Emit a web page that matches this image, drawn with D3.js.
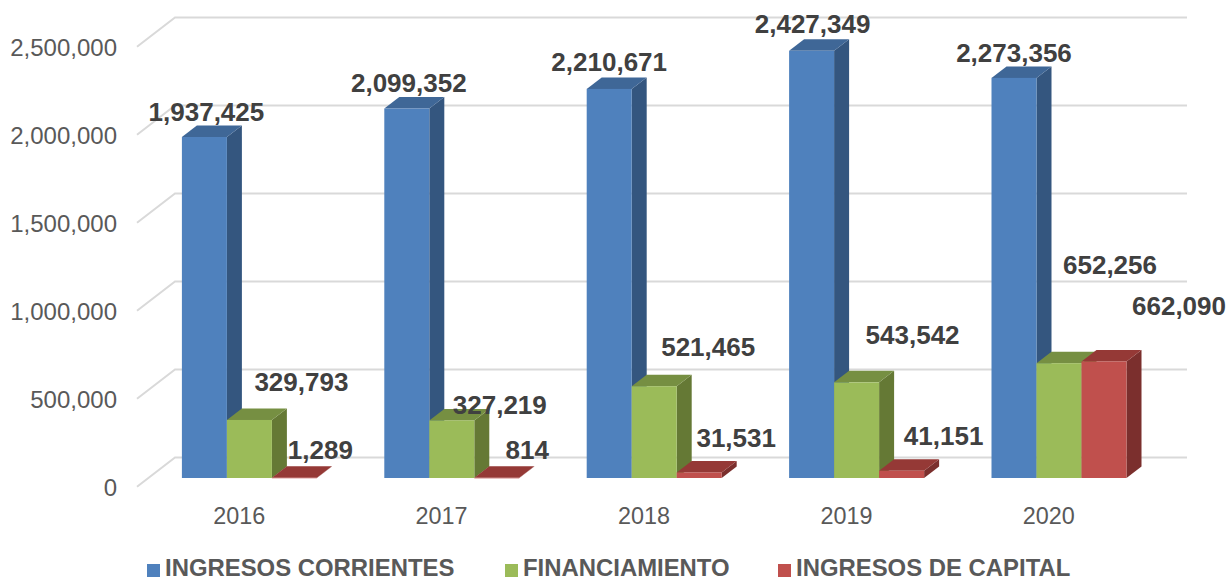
<!DOCTYPE html>
<html><head><meta charset="utf-8">
<script src="https://cdn.jsdelivr.net/npm/d3@7"></script>
<style>html,body{margin:0;padding:0;background:#fff}svg{display:block}text{font-family:"Liberation Sans",Arial,sans-serif}</style>
</head><body><div id="c"></div>
<script>
const years = ["2016","2017","2018","2019","2020"];
const seriesNames = ["INGRESOS CORRIENTES","FINANCIAMIENTO","INGRESOS DE CAPITAL"];
const corrientes = [1937425,2099352,2210671,2427349,2273356];
const financiamiento = [329793,327219,521465,543542,652256];
const capital = [1289,814,31531,41151,662090];
const yTicks = [0,500000,1000000,1500000,2000000,2500000];
// label nudges from the default spot above each bar [dx, dy]
const nudgeCorrientes = [[2,-16.5],[2,-16.5],[0,-17.5],[1,-17.5],[0,-15.5]];
const nudgeFinanciamiento = [[52,-28.5],[48,-6.5],[54,-30.5],[56,-38.5],[51,-89.5]];
const nudgeCapital = [[26,-18.5],[30.5,-18.5],[37,-25.5],[42,-25.5],[75,-46.5]];
const faceColors = [
 {front:"#4F81BD",side:"#34567F",top:"#3F6797"},
 {front:"#9BBB59",side:"#657935",top:"#768F42"},
 {front:"#C0504D",side:"#7B2F2D",top:"#953936"}];

const W=1227,H=581;
const svg=d3.select("#c").append("svg").attr("width",W).attr("height",H);
const y=d3.scaleLinear().domain([0,2500000]).range([478,38]);
const x=d3.scaleBand().domain(years).range([148.2,1160.2]);
const sx=d3.scaleBand().domain([0,1,2]).range([0,135]);
const depth={dx:15,dy:-11.5};
const floor={frontX:137,backX:175,endX:1187,frontDy:8.7,backDy:-20.5};

// gridlines
const grid=svg.append("g").attr("fill","none").attr("stroke","#D9D9D9").attr("stroke-width",2);
yTicks.forEach(t=>{
  const p=d3.path();
  p.moveTo(floor.frontX,y(t)+floor.frontDy);
  p.lineTo(floor.backX,y(t)+floor.backDy);
  p.lineTo(floor.endX,y(t)+floor.backDy);
  grid.append("path").attr("d",p.toString());
});

// y axis
const ay=svg.append("g").attr("transform","translate(117,10)")
 .call(d3.axisLeft(y).tickValues(yTicks).tickSize(0).tickPadding(0).tickFormat(d3.format(",")));
ay.select(".domain").remove();
ay.selectAll("text").attr("font-size",24).attr("fill","#595959").style("font-family",'"Liberation Sans",Arial,sans-serif');

// x axis
const ax=svg.append("g").attr("transform","translate(-10.2,507)")
 .call(d3.axisBottom(x).tickSize(0).tickPadding(0));
ax.select(".domain").remove();
ax.selectAll("text").attr("font-size",23.4).attr("fill","#595959").style("font-family",'"Liberation Sans",Arial,sans-serif');

// bars
const series=[corrientes,financiamiento,capital];
const nudges=[nudgeCorrientes,nudgeFinanciamiento,nudgeCapital];
const bars=svg.append("g");
years.forEach((yr,i)=>{
  const left=x(yr)+(x.bandwidth()-135)/2;
  series.forEach((vals,s)=>{
    const c=faceColors[s];
    const x0=left+sx(s),x1=x0+sx.bandwidth(),yt=y(vals[i]),yb=y(0);
    const g=bars.append("g");
    const pts=a=>a.map(q=>q.join(",")).join(" ");
    g.append("polygon").attr("fill",c.side).attr("points",pts([[x1,yt],[x1+depth.dx,yt+depth.dy],[x1+depth.dx,yb+depth.dy],[x1,yb]]));
    g.append("polygon").attr("fill",c.top).attr("points",pts([[x0,yt],[x0+depth.dx,yt+depth.dy],[x1+depth.dx,yt+depth.dy],[x1,yt]]));
    g.append("rect").attr("x",x0).attr("y",yt).attr("width",x1-x0).attr("height",Math.max(yb-yt,0.5)).attr("fill",c.front);
  });
});

// data labels
const labels=svg.append("g").attr("font-size",26).attr("font-weight","bold").attr("fill","#404040").attr("text-anchor","middle");
years.forEach((yr,i)=>{
  const left=x(yr)+(x.bandwidth()-135)/2;
  series.forEach((vals,s)=>{
    const n=nudges[s][i];
    labels.append("text")
      .attr("x",left+sx(s)+sx.bandwidth()/2+n[0])
      .attr("y",y(vals[i])+n[1])
      .text(d3.format(",")(vals[i]));
  });
});

// legend
const legX=[147,505,778], legT=[165,523,796];
const leg=svg.append("g");
seriesNames.forEach((n,s)=>{
  leg.append("rect").attr("x",legX[s]).attr("y",564).attr("width",13).attr("height",13).attr("fill",faceColors[s].front);
  leg.append("text").attr("x",legT[s]).attr("y",575.9).attr("font-size",23.9).attr("font-weight","bold").attr("fill","#595959").text(n);
});
</script></body></html>
